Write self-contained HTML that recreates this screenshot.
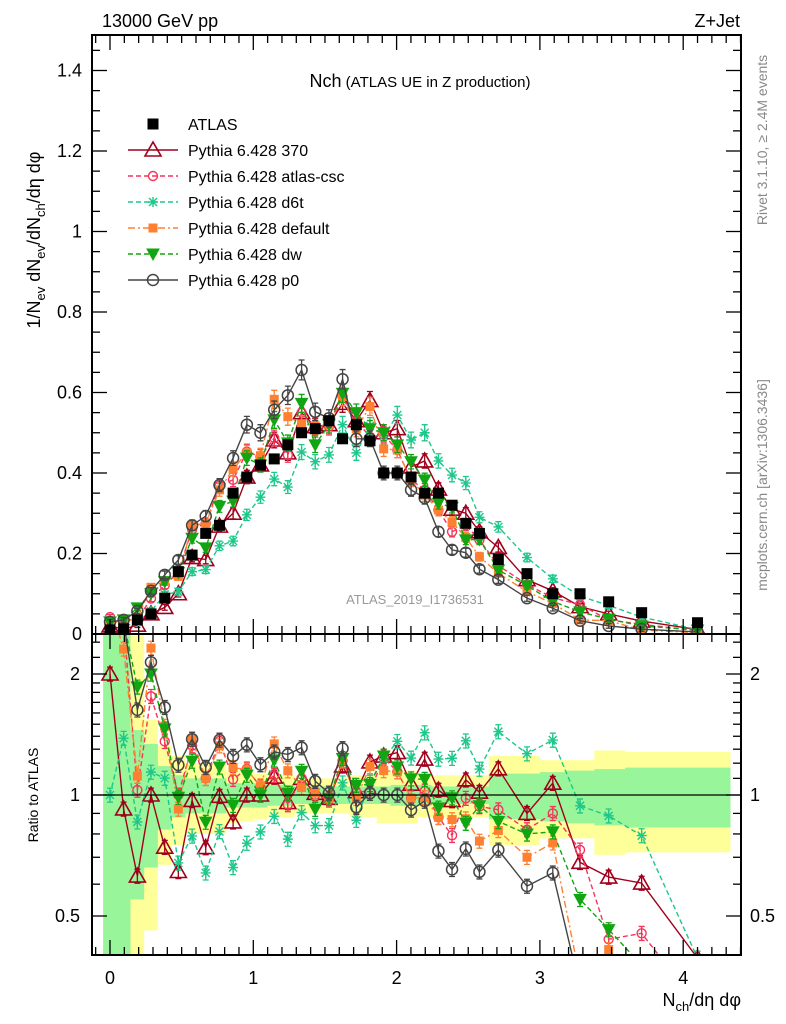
<!DOCTYPE html>
<html><head><meta charset="utf-8"><style>
html,body{margin:0;padding:0;background:#fff;width:786px;height:1024px;overflow:hidden;}
svg{display:block;font-family:"Liberation Sans",sans-serif;}
</style></head><body>
<svg id="chart" width="786" height="1024" viewBox="0 0 786 1024" xmlns="http://www.w3.org/2000/svg">
<defs>
<clipPath id="clipMain"><rect x="92" y="35" width="649" height="599"/></clipPath>
<clipPath id="clipRatio"><rect x="92" y="634" width="649" height="321"/></clipPath>
</defs>
<g id="bands" clip-path="url(#clipRatio)"></g>
<g id="mainMarks" clip-path="url(#clipMain)"></g>
<g id="ratioMarks" clip-path="url(#clipRatio)"></g>
<line x1="92" y1="795" x2="741" y2="795" stroke="#000" stroke-width="1.3"/>
<g id="axes"></g>
<rect x="92" y="35" width="649" height="599" fill="none" stroke="#000" stroke-width="2"/>
<rect x="92" y="634" width="649" height="321" fill="none" stroke="#000" stroke-width="2"/>
<text x="102" y="27" font-size="18">13000 GeV pp</text>
<text x="740" y="27" font-size="18" text-anchor="end">Z+Jet</text>
<text x="420" y="87" text-anchor="middle"><tspan font-size="18">Nch</tspan><tspan font-size="15"> (ATLAS UE in Z production)</tspan></text>
<text x="415" y="604" font-size="13" fill="#999" text-anchor="middle">ATLAS_2019_I1736531</text>
<text transform="translate(40,240) rotate(-90)" font-size="18" text-anchor="middle">1/N<tspan font-size="13" dy="5">ev</tspan><tspan dy="-5"> dN</tspan><tspan font-size="13" dy="5">ev</tspan><tspan dy="-5">/dN</tspan><tspan font-size="13" dy="5">ch</tspan><tspan dy="-5">/dη dφ</tspan></text>
<text transform="translate(38,795) rotate(-90)" font-size="14" text-anchor="middle">Ratio to ATLAS</text>
<text x="741" y="1006" font-size="18" text-anchor="end">N<tspan font-size="13" dy="5">ch</tspan><tspan dy="-5">/dη dφ</tspan></text>
<text transform="translate(767,140) rotate(-90)" font-size="14" fill="#888" text-anchor="middle">Rivet 3.1.10, ≥ 2.4M events</text>
<text transform="translate(767,485) rotate(-90)" font-size="14" fill="#888" text-anchor="middle">mcplots.cern.ch [arXiv:1306.3436]</text>
<g id="legend"></g>
</svg>
<script>
const xVals=[0,0.095,0.191,0.286,0.382,0.477,0.573,0.668,0.764,0.859,0.955,1.05,1.146,1.241,1.337,1.432,1.528,1.623,1.719,1.814,1.91,2.005,2.101,2.196,2.292,2.387,2.483,2.578,2.71,2.91,3.09,3.28,3.48,3.71,4.10];
const atlasVals=[0.01,0.013,0.035,0.05,0.089,0.155,0.196,0.25,0.27,0.35,0.39,0.42,0.435,0.47,0.50,0.51,0.53,0.485,0.52,0.48,0.40,0.40,0.39,0.35,0.35,0.32,0.275,0.25,0.185,0.15,0.10,0.10,0.08,0.053,0.028];
const p370Vals=[0.02,0.012,0.022,0.05,0.066,0.10,0.19,0.185,0.268,0.30,0.39,0.42,0.482,0.45,0.55,0.515,0.52,0.573,0.53,0.58,0.50,0.51,0.415,0.43,0.36,0.31,0.30,0.254,0.215,0.135,0.107,0.068,0.05,0.032,0.011];
const cscVals=[0.042,0.035,0.036,0.088,0.121,0.155,0.26,0.275,0.368,0.383,0.453,0.44,0.487,0.445,0.55,0.51,0.515,0.59,0.53,0.49,0.495,0.457,0.383,0.358,0.308,0.254,0.27,0.234,0.17,0.123,0.09,0.073,0.035,0.024,0.008];
const d6tVals=[0.01,0.018,0.03,0.057,0.098,0.105,0.155,0.16,0.219,0.231,0.296,0.34,0.385,0.365,0.452,0.428,0.445,0.52,0.45,0.517,0.492,0.544,0.482,0.50,0.43,0.395,0.375,0.29,0.266,0.19,0.137,0.094,0.071,0.042,0.011];
const defaultVals=[0.03,0.03,0.039,0.116,0.132,0.143,0.27,0.275,0.358,0.41,0.45,0.443,0.583,0.54,0.522,0.517,0.52,0.59,0.51,0.565,0.46,0.457,0.383,0.345,0.308,0.278,0.24,0.192,0.151,0.105,0.076,0.035,0.033,0.01,0.003];
const dwVals=[0.03,0.035,0.065,0.10,0.13,0.153,0.238,0.214,0.317,0.33,0.437,0.42,0.532,0.475,0.573,0.47,0.52,0.598,0.55,0.51,0.50,0.47,0.428,0.383,0.325,0.315,0.234,0.235,0.159,0.12,0.081,0.055,0.037,0.02,0.01];
const p0Vals=[0.03,0.035,0.057,0.107,0.147,0.184,0.27,0.293,0.37,0.437,0.52,0.50,0.557,0.593,0.656,0.552,0.536,0.633,0.485,0.485,0.40,0.40,0.358,0.338,0.254,0.209,0.202,0.161,0.135,0.089,0.064,0.033,0.02,0.012,0.005];
const greenErr=[1.5,1.5,0.45,0.34,0.18,0.12,0.1,0.1,0.1,0.07,0.07,0.07,0.06,0.06,0.05,0.05,0.05,0.05,0.05,0.05,0.05,0.06,0.06,0.06,0.05,0.05,0.05,0.05,0.13,0.13,0.14,0.15,0.16,0.17,0.17];
const yellowErr=[1.5,1.5,1.5,0.54,0.33,0.25,0.2,0.2,0.2,0.15,0.14,0.13,0.12,0.12,0.1,0.1,0.1,0.1,0.12,0.12,0.15,0.15,0.15,0.12,0.12,0.12,0.12,0.12,0.25,0.25,0.22,0.22,0.29,0.28,0.28];
const xTickLabels=["0","1","2","3","4"];
const yTickLabels=["0","0.2","0.4","0.6","0.8","1","1.2","1.4"];
const ratioTickLabels=["0.5","1","2"];
const legendLabels=["ATLAS","Pythia 6.428 370","Pythia 6.428 atlas-csc","Pythia 6.428 d6t","Pythia 6.428 default","Pythia 6.428 dw","Pythia 6.428 p0"];

const NS="http://www.w3.org/2000/svg";
const X=v=>110+v*143.3;
const Y=v=>634-v*402.5;
const RY=r=>795-121*Math.log2(Math.min(Math.max(r,0.3),3));
function mk(tag,attrs,parent){const e=document.createElementNS(NS,tag);for(const k in attrs)e.setAttribute(k,attrs[k]);parent.appendChild(e);return e;}

const series=[
 {key:"370",vals:p370Vals,color:"#a0001c",dash:"none",marker:"triUp"},
 {key:"atlas-csc",vals:cscVals,color:"#f5345a",dash:"5,3",marker:"circSmall"},
 {key:"d6t",vals:d6tVals,color:"#1ec78a",dash:"5,3",marker:"star"},
 {key:"default",vals:defaultVals,color:"#ff8030",dash:"7,3,2,3",marker:"square"},
 {key:"dw",vals:dwVals,color:"#12a512",dash:"5,3",marker:"triDown"},
 {key:"p0",vals:p0Vals,color:"#444444",dash:"none",marker:"circ"}
];

function marker(type,cx,cy,color,g){
 let e;
 if(type==="triUp"){e=mk("polygon",{points:`${cx},${cy-8} ${cx-8},${cy+6} ${cx+8},${cy+6}`,fill:"none",stroke:color,"stroke-width":1.6},g);}
 else if(type==="triDown"){e=mk("polygon",{points:`${cx-6},${cy-5} ${cx+6},${cy-5} ${cx},${cy+6}`,fill:color,stroke:color},g);}
 else if(type==="circSmall"){e=mk("circle",{cx:cx,cy:cy,r:4.5,fill:"none",stroke:color,"stroke-width":1.4},g);}
 else if(type==="circ"){e=mk("circle",{cx:cx,cy:cy,r:5.5,fill:"none",stroke:color,"stroke-width":1.5},g);}
 else if(type==="square"){e=mk("rect",{x:cx-4.5,y:cy-4.5,width:9,height:9,fill:color},g);}
 else if(type==="bigSquare"){e=mk("rect",{x:cx-5.5,y:cy-5.5,width:11,height:11,fill:color},g);}
 else {e=mk("path",{d:`M${cx-5},${cy}H${cx+5}M${cx},${cy-5}V${cy+5}M${cx-4},${cy-4}L${cx+4},${cy+4}M${cx-4},${cy+4}L${cx+4},${cy-4}`,stroke:color,"stroke-width":1.4,fill:"none"},g);}
 return e;
}
function errbar(cx,y1,y2,color,g){
 const e=mk("path",{d:`M${cx},${y1}V${y2}M${cx-3},${y1}H${cx+3}M${cx-3},${y2}H${cx+3}`,stroke:color,"stroke-width":1.3,fill:"none"},g);
 
 
}

const bandG=document.getElementById("bands");
const n=xVals.length;
const edges=[];
edges.push(xVals[0]-0.0477);
for(let i=1;i<n;i++)edges.push((xVals[i-1]+xVals[i])/2);
edges.push(4.33);
function bandPath(errs){
 let top="",bot="";
 for(let i=0;i<n;i++){
  const up=RY(Math.min(1+errs[i],2.55));
  top+=(i===0?"M":"L")+X(edges[i])+","+up+"L"+X(edges[i+1])+","+up;
 }
 for(let i=n-1;i>=0;i--){
  const dn=RY(Math.max(1-errs[i],0.395));
  bot+="L"+X(edges[i+1])+","+dn+"L"+X(edges[i])+","+dn;
 }
 return top+bot+"Z";
}
const yb=mk("path",{d:bandPath(yellowErr),fill:"#ffff99"},bandG);


const gb=mk("path",{d:bandPath(greenErr),fill:"#99f599"},bandG);



const mainG=document.getElementById("mainMarks");
const ratioG=document.getElementById("ratioMarks");
series.forEach(s=>{
 const gm=mk("g",{},mainG);
 
 
 const gr=mk("g",{},ratioG);
 
 
 const pts=s.vals.map((v,i)=>X(xVals[i])+","+Y(v)).join(" ");
 const pl=mk("polyline",{points:pts,fill:"none",stroke:s.color,"stroke-width":1.4,"stroke-dasharray":s.dash},gm);
 
 
 const rpts=s.vals.map((v,i)=>X(xVals[i])+","+RY(v/atlasVals[i])).join(" ");
 const rl=mk("polyline",{points:rpts,fill:"none",stroke:s.color,"stroke-width":1.4,"stroke-dasharray":s.dash},gr);
 
 
 s.vals.forEach((v,i)=>{
  const cx=X(xVals[i]);
  const err=0.03*v+0.005;
  errbar(cx,Y(v+err),Y(v-err),s.color,gm);
  const m=marker(s.marker,cx,Y(v),s.color,gm);
  
  
  const r=v/atlasVals[i],re=r*0.04;
  if(r>0.3&&r<3){
   errbar(cx,RY(r+re),RY(r-re),s.color,gr);
   const rm=marker(s.marker,cx,RY(r),s.color,gr);
   
   
  }
 });
});
const ga=mk("g",{},mainG);


atlasVals.forEach((v,i)=>{
 const cx=X(xVals[i]);
 const e=Math.min(v*greenErr[i]*0.5,0.01);
 errbar(cx,Y(v+e),Y(v-e),"#000",ga);
 const m=marker("bigSquare",cx,Y(v),"#000",ga);
 
 
});

const ax=document.getElementById("axes");
function tick(x1,y1,x2,y2){mk("line",{x1:x1,y1:y1,x2:x2,y2:y2,stroke:"#000","stroke-width":1.3},ax);}
function label(x,y,t,anchor,name){const e=mk("text",{x:x,y:y,"font-size":18,"text-anchor":anchor},ax);e.textContent=t;}
for(let k=-1;k<=44;k++){
 const v=k/10;const px=X(v);if(px<92||px>741)continue;
 const major=(k%10===0);const L=major?15:8;
 tick(px,634,px,634-L);tick(px,35,px,35+L);
 tick(px,955,px,955-L);tick(px,634,px,634+L);
}
xTickLabels.forEach((t,i)=>label(X(i),984,t,"middle","x-tick-label"));
for(let k=0;k<=29;k++){
 const v=k*0.05;const py=Y(v);if(py<35)continue;
 const major=(k%4===0);const L=major?15:8;
 tick(92,py,92+L,py);tick(741,py,741-L,py);
}
yTickLabels.forEach((t,i)=>label(82,Y(i*0.2)+6,t,"end","y-tick-label"));
const rMinor=[0.4,0.6,0.7,0.8,0.9,1.1,1.2,1.3,1.4,1.5,1.6,1.7,1.8,1.9,2.2,2.4];
rMinor.forEach(r=>{const py=RY(r);tick(92,py,100,py);tick(741,py,733,py);});
[0.5,1,2].forEach(r=>{const py=RY(r);tick(92,py,107,py);tick(741,py,726,py);});
ratioTickLabels.forEach((t,i)=>{const r=[0.5,1,2][i];label(80,RY(r)+6,t,"end","ratio-tick-label-left");label(750,RY(r)+6,t,"start","ratio-tick-label-right");});

const lg=document.getElementById("legend");
const legendMarkers=[{m:"bigSquare",c:"#000",d:"none",line:false}].concat(series.map(s=>({m:s.marker,c:s.color,d:s.dash,line:true})));
legendLabels.forEach((t,i)=>{
 const y=124+i*26;
 const g=mk("g",{},lg);
 
 
 const lm=legendMarkers[i];
 if(lm.line)mk("line",{x1:128,y1:y,x2:178,y2:y,stroke:lm.c,"stroke-width":1.4,"stroke-dasharray":lm.d},g);
 marker(lm.m,153,y,lm.c,g);
 const tx=mk("text",{x:188,y:y+6,"font-size":16},g);
 tx.textContent=t;
});
</script>
</body></html>
